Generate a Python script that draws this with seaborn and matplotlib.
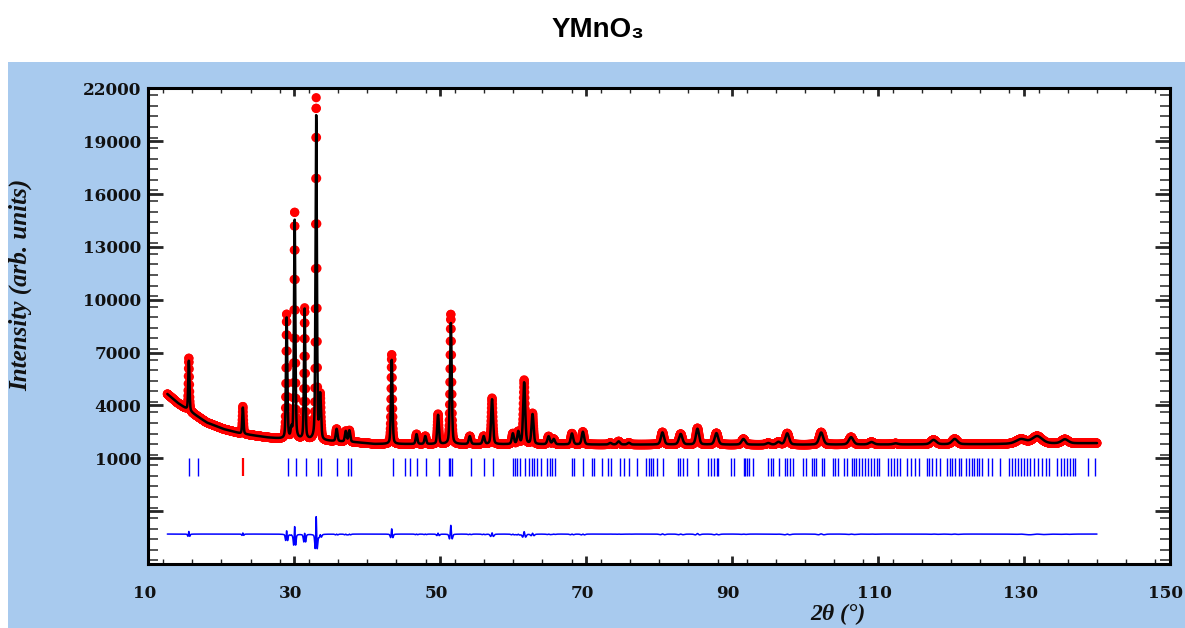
import numpy as np
import pandas as pd
import matplotlib
matplotlib.use("Agg")
import matplotlib.pyplot as plt
import seaborn as sns
from matplotlib.patches import Rectangle
from matplotlib.ticker import FixedLocator, FixedFormatter, MultipleLocator
from matplotlib.transforms import ScaledTranslation

# ---------------- data ----------------
title = "YMnO₃"
x_label = "2θ (°)"
y_label = "Intensity (arb. units)"

x_ticks = [10, 30, 50, 70, 90, 110, 130, 150]
y_ticks = [-5000, -2000, 1000, 4000, 7000, 10000, 13000, 16000, 19000, 22000]
y_tick_labels = ["", "", "1000", "4000", "7000", "10000", "13000", "16000", "19000", "22000"]

scan_start = 12.6
scan_end = 140.0
scan_step = 0.02

# background level (2theta, counts)
bg_pos = [12.6, 14.0, 15.5, 18.0, 20.3, 22.6, 26.3, 28.5, 38.6, 41.0, 50.0, 70.0, 100.0, 125.0, 140.0]
bg_int = [4650, 4150, 3720, 3030, 2660, 2410, 2180, 2090, 1900, 1810, 1800, 1780, 1770, 1800, 1860]

# reflections: position, observed height, calculated height, FWHM
peak_pos = [15.55, 22.95, 28.95, 29.6, 30.05, 31.42, 33.0, 33.55, 35.8, 37.05, 37.55,
            43.35, 46.75, 47.95, 49.7, 51.45, 54.05, 55.95, 57.1, 59.95, 60.7, 61.5,
            62.65, 64.85, 65.55, 68.05, 69.55, 73.3, 74.45, 75.85, 80.45, 82.95, 85.25,
            87.85, 91.55, 94.95, 96.35, 97.55, 102.2, 106.3, 109.1, 112.4, 117.6, 120.5,
            129.6, 131.8, 135.6]
peak_obs = [3000, 1560, 7100, 500, 12950, 7450, 19400, 2500, 700, 600, 650,
            5100, 560, 450, 1700, 7400, 450, 450, 2620, 600, 700, 3640,
            1750, 450, 300, 620, 720, 90, 180, 100, 700, 600, 930,
            650, 320, 90, 150, 640, 700, 420, 140, 60, 250, 300,
            260, 420, 230]
peak_calc = [2850, 1500, 6900, 500, 12500, 7400, 18400, 2500, 700, 600, 650,
             4800, 560, 450, 1650, 6900, 450, 450, 2550, 600, 700, 3500,
             1700, 450, 300, 620, 720, 90, 180, 100, 690, 600, 900,
             650, 320, 90, 150, 640, 690, 420, 140, 60, 250, 300,
             260, 420, 230]
peak_fwhm = [0.18, 0.18, 0.2, 0.2, 0.2, 0.2, 0.2, 0.25, 0.25, 0.25, 0.25,
             0.22, 0.25, 0.25, 0.25, 0.25, 0.3, 0.3, 0.28, 0.3, 0.3, 0.3,
             0.3, 0.35, 0.35, 0.35, 0.35, 0.4, 0.4, 0.4, 0.45, 0.5, 0.45,
             0.5, 0.55, 0.55, 0.55, 0.55, 0.6, 0.65, 0.7, 0.7, 0.8, 0.8,
             1.5, 1.5, 1.0]

# Bragg reflection markers
bragg_main = [15.62, 16.80, 29.09, 30.27, 31.55, 33.19, 33.70, 35.85, 37.40, 37.81,
              43.47, 45.21, 45.80, 46.80, 47.99, 49.86, 51.19, 51.37, 51.60, 54.25,
              55.98, 57.21, 59.95, 60.18, 60.50, 60.96, 61.64, 62.19, 62.56, 62.88,
              63.24, 63.79, 64.61, 64.98, 65.34, 65.71, 68.08, 68.36, 69.63, 70.78,
              71.10, 72.15, 73.05, 73.38, 74.66, 75.21, 75.93, 76.94, 78.22, 78.54,
              78.86, 79.22, 79.68, 80.59, 82.60, 82.88, 83.24, 83.79, 85.38, 86.75,
              87.08, 87.53, 87.90, 88.13, 89.82, 90.19, 91.56, 91.78, 92.01, 92.38,
              92.83, 94.98, 95.29, 95.57, 96.39, 97.26, 97.58, 97.95, 98.40, 99.77,
              100.14, 100.92, 101.23, 101.51, 102.28, 102.60, 103.79, 104.11, 104.56,
              105.32, 105.74, 106.37, 106.65, 107.01, 107.43, 107.85, 108.22, 108.59,
              109.01, 109.43, 109.80, 110.17, 111.38, 111.75, 112.17, 112.59, 112.96,
              114.01, 114.55, 115.07, 115.59, 116.65, 117.02, 117.44, 117.97, 118.49,
              119.44, 119.81, 120.18, 120.60, 121.03, 121.40, 122.08, 122.44, 122.81,
              123.13, 123.49, 123.86, 124.29, 125.08, 125.61, 126.66, 127.97, 128.40,
              128.77, 129.13, 129.56, 129.98, 130.35, 130.88, 131.40, 131.93, 132.46,
              132.98, 133.36, 134.56, 135.09, 135.45, 135.88, 136.30, 136.67, 136.93,
              138.78, 139.73]
bragg_second = [22.97]

diff_offset = -3300
bragg_bottom = 0
bragg_top = 1000
calc_width_factor = 1.1

# ---------------- build the profile from the read values ----------------
tt = np.arange(scan_start, scan_end + scan_step / 2, scan_step)
bg = np.interp(tt, bg_pos, bg_int)


def pseudo_voigt(x, x0, w, eta=0.35):
    d = (x - x0) / w
    g = np.exp(-4 * np.log(2) * d ** 2)
    lor = 1.0 / (1.0 + 4 * d ** 2)
    return eta * lor + (1 - eta) * g


obs = bg.copy()
calc = bg.copy()
for p, ho, hc, w in zip(peak_pos, peak_obs, peak_calc, peak_fwhm):
    obs += ho * pseudo_voigt(tt, p, w)
    calc += hc * pseudo_voigt(tt, p, w * calc_width_factor)
diff = obs - calc + diff_offset

df = pd.DataFrame({"tt": tt, "obs": obs, "calc": calc, "diff": diff})

# ---------------- drawing ----------------
sns.set_style("ticks")
plt.rcParams["font.family"] = ["DejaVu Serif"]

fig = plt.figure(figsize=(11.85, 6.28), dpi=100)
fig.patch.set_facecolor("white")
fig.patches.append(Rectangle((8 / 1185, 0), 1 - 8 / 1185, (628 - 62) / 628,
                             transform=fig.transFigure, facecolor="#A8CAEE",
                             edgecolor="none", zorder=-10))

ax = fig.add_axes([0.1252, 0.1019, 0.8621, 0.7575])
ax.set_zorder(5)
ax.set_facecolor("white")

sns.scatterplot(data=df, x="tt", y="obs", color="#FF0000", s=44, linewidth=0,
                edgecolor="none", ax=ax, zorder=2, legend=False)
sns.lineplot(data=df, x="tt", y="calc", color="black", linewidth=1.8,
             estimator=None, sort=False, ax=ax, zorder=3, legend=False)
sns.lineplot(data=df, x="tt", y="diff", color="#0000FF", linewidth=1.1,
             estimator=None, sort=False, ax=ax, zorder=3, legend=False)
ax.vlines(bragg_main, bragg_bottom, bragg_top, color="#0000FF", linewidth=1.0, zorder=2)
ax.vlines(bragg_second, bragg_bottom, bragg_top, color="#FF0000", linewidth=1.6, zorder=2)

ax.set_xlim(10, 150)
ax.set_ylim(-5000, 22000)

ax.xaxis.set_major_locator(FixedLocator(x_ticks))
ax.xaxis.set_minor_locator(MultipleLocator(4))
ax.yaxis.set_major_locator(FixedLocator(y_ticks))
ax.yaxis.set_major_formatter(FixedFormatter(y_tick_labels))
ax.yaxis.set_minor_locator(MultipleLocator(600))

for s in ax.spines.values():
    s.set_linewidth(2.2)
    s.set_color("black")
    s.set_visible(True)

ax.tick_params(axis="y", which="major", direction="in", length=11, width=2.0,
               left=True, right=True, pad=5)
ax.tick_params(axis="y", which="minor", direction="in", length=7, width=1.1,
               left=True, right=True)
ax.tick_params(axis="x", which="major", direction="in", length=5.5, width=2.0,
               top=True, bottom=True, pad=15)
ax.tick_params(axis="x", which="minor", direction="in", length=3.5, width=1.0,
               top=True, bottom=True)

shift = ScaledTranslation(-4 / 100, 0, fig.dpi_scale_trans)
for lab in ax.get_xticklabels():
    lab.set_transform(lab.get_transform() + shift)
for lab in ax.get_xticklabels() + ax.get_yticklabels():
    lab.set_fontfamily("DejaVu Serif")
    lab.set_fontweight("bold")
    lab.set_fontsize(12.2)
    lab.set_color("#111111")

ax.set_xlabel(x_label, fontsize=17, fontweight="bold", fontstyle="italic",
              family=["Liberation Serif", "DejaVu Serif"], va="center", color="#111111")
ax.xaxis.set_label_coords(0.675, -0.107)
ax.set_ylabel(y_label, fontsize=18, fontweight="bold", fontstyle="italic",
              family=["Liberation Serif", "DejaVu Serif"], va="center", color="#111111")
ax.yaxis.set_label_coords(-0.1256, 0.586)

fig.text(0.505, 1 - 30 / 628, title, ha="center", va="center", fontsize=20,
         fontweight="bold", family=["Liberation Sans", "DejaVu Sans"], color="black")

fig.savefig("out.png", dpi=100)
